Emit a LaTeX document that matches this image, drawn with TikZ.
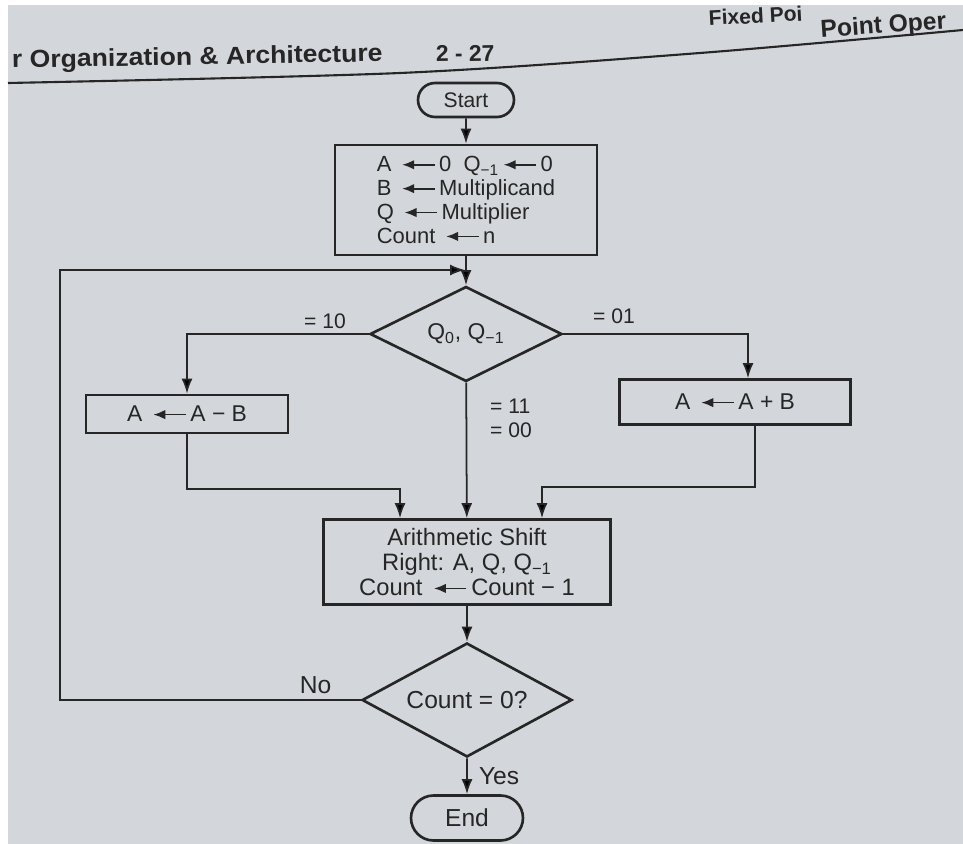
\documentclass[tikz,border=0pt]{standalone}
\usepackage{fontspec}
\usepackage{graphicx}
\setmainfont{Liberation Sans}
\usetikzlibrary{arrows.meta,positioning,shapes.geometric,shapes.misc}
\definecolor{paper}{HTML}{D3D6DA}
\definecolor{ink}{HTML}{262626}
\newcommand{\asgn}{\,\tikz[x=1cm,y=1cm,baseline=-0.6ex]\draw[ink,line width=1pt,-{Latex[length=2.4mm,width=1.9mm]}] (6.5mm,0)--(0,0);\,}
\newcommand{\qm}{Q\textsubscript{−1}}

\begin{document}
\begin{tikzpicture}[x=0.02cm,y=-0.02cm,
   box/.style={draw=ink,line width=1.5pt,align=center,inner sep=0pt,text=ink,
               font=\fontsize{13}{13.5}\selectfont},
   big/.style={font=\fontsize{14}{15}\selectfont},
   term/.style={box,rounded rectangle},
   decide/.style={box,diamond,aspect=1.8},
   ln/.style={draw=ink,line width=1pt},
   ar/.style={ln,-{Latex[length=3mm,width=2.2mm]}},
   lbl/.style={font=\fontsize{12}{13.5}\selectfont,text=ink,align=left},
   hdr/.style={font=\bfseries\fontsize{14}{16}\selectfont,text=ink,anchor=base west}]
  \useasboundingbox (0,0) rectangle (963,844);
  \fill[white] (0,0) rectangle (963,844);
  \fill[paper] (8,5) rectangle (963,844);
  \clip (0,0) rectangle (963,844);
  % page header
  \draw[ink,line width=1.2pt] plot[smooth] coordinates {(8,83) (400,73) (700,53) (963,30)};
  \node[hdr,rotate=1] (book) at (6,68) {\scalebox{1.08}[1]{r Organization \& Architecture}};
  \node[hdr,rotate=1,font=\bfseries\fontsize{13}{15}\selectfont] (page) at (430,62) {2 - 27};
  \node[hdr,rotate=3,font=\bfseries\fontsize{12}{14}\selectfont] (ch1) at (703,26) {Fixed Poi};
  \node[hdr,rotate=4] (ch2) at (815,38) {Point Oper};
  % flowchart
  \node[term,font=\fontsize{12}{13}\selectfont,minimum width=1.92cm,minimum height=0.68cm]
     (start) at (466,100) {Start};
  \node[box,align=left,font=\fontsize{12.5}{13.6}\selectfont,
        minimum width=5.24cm,minimum height=2.2cm] (init) at (466,200)
     {A \asgn 0 \ \qm\asgn 0\\B \asgn Multiplicand\\Q \asgn Multiplier\\Count \asgn n};
  \node[decide,minimum width=3.84cm,minimum height=1.9cm] (q0q1) at (466,334)
     {Q\textsubscript{0}, \qm};
  \node[box,minimum width=4.04cm,minimum height=0.76cm] (sub) at (187,414) {A \asgn A − B};
  \node[box,minimum width=4.62cm,minimum height=0.9cm] (add) at (735,402) {A \asgn A + B};
  \node[box,font=\fontsize{13.5}{14.5}\selectfont,minimum width=5.74cm,minimum height=1.7cm]
     (shift) at (467,562) {Arithmetic Shift\\Right: A, Q, \qm\\Count \asgn Count − 1};
  \node[decide,big,minimum width=4.2cm,minimum height=2.28cm] (cnt) at (467,700) {Count = 0?};
  \node[term,big,minimum width=2.24cm,minimum height=0.9cm] (stop) at (467,818) {End};
  \coordinate (tl) at (60,270);
  \coordinate (lp) at (465,270);
  \draw[ar] (start) -- (init);
  \draw[ar] (init) -- (q0q1);
  \draw[ar] (q0q1.west) -| (sub);
  \draw[ar] (q0q1.east) -| ([xshift=0.26cm]add.north);
  \node[lbl] (c10) at (325,321) {= 10};
  \node[lbl] (c01) at (614,316) {= 01};
  \draw[ar] (q0q1) -- (shift);
  \node[lbl,anchor=north west] (mid) at (484,393) {= 11\\= 00};
  \draw[ar] (sub.south) -- ++(0,55) -| ([xshift=-1.34cm]shift.north);
  \draw[ar] ([xshift=0.4cm]add.south) -- ++(0,61) -| ([xshift=1.5cm]shift.north);
  \draw[ar] (shift) -- (cnt);
  \draw[ar] (cnt) -- node[lbl,big,right=3pt] {Yes} (stop);
  \draw[ar] (cnt.west) -- node[lbl,big,above,pos=0.15] {No} (cnt.west -| tl) |- (lp);
\end{tikzpicture}
\end{document}
